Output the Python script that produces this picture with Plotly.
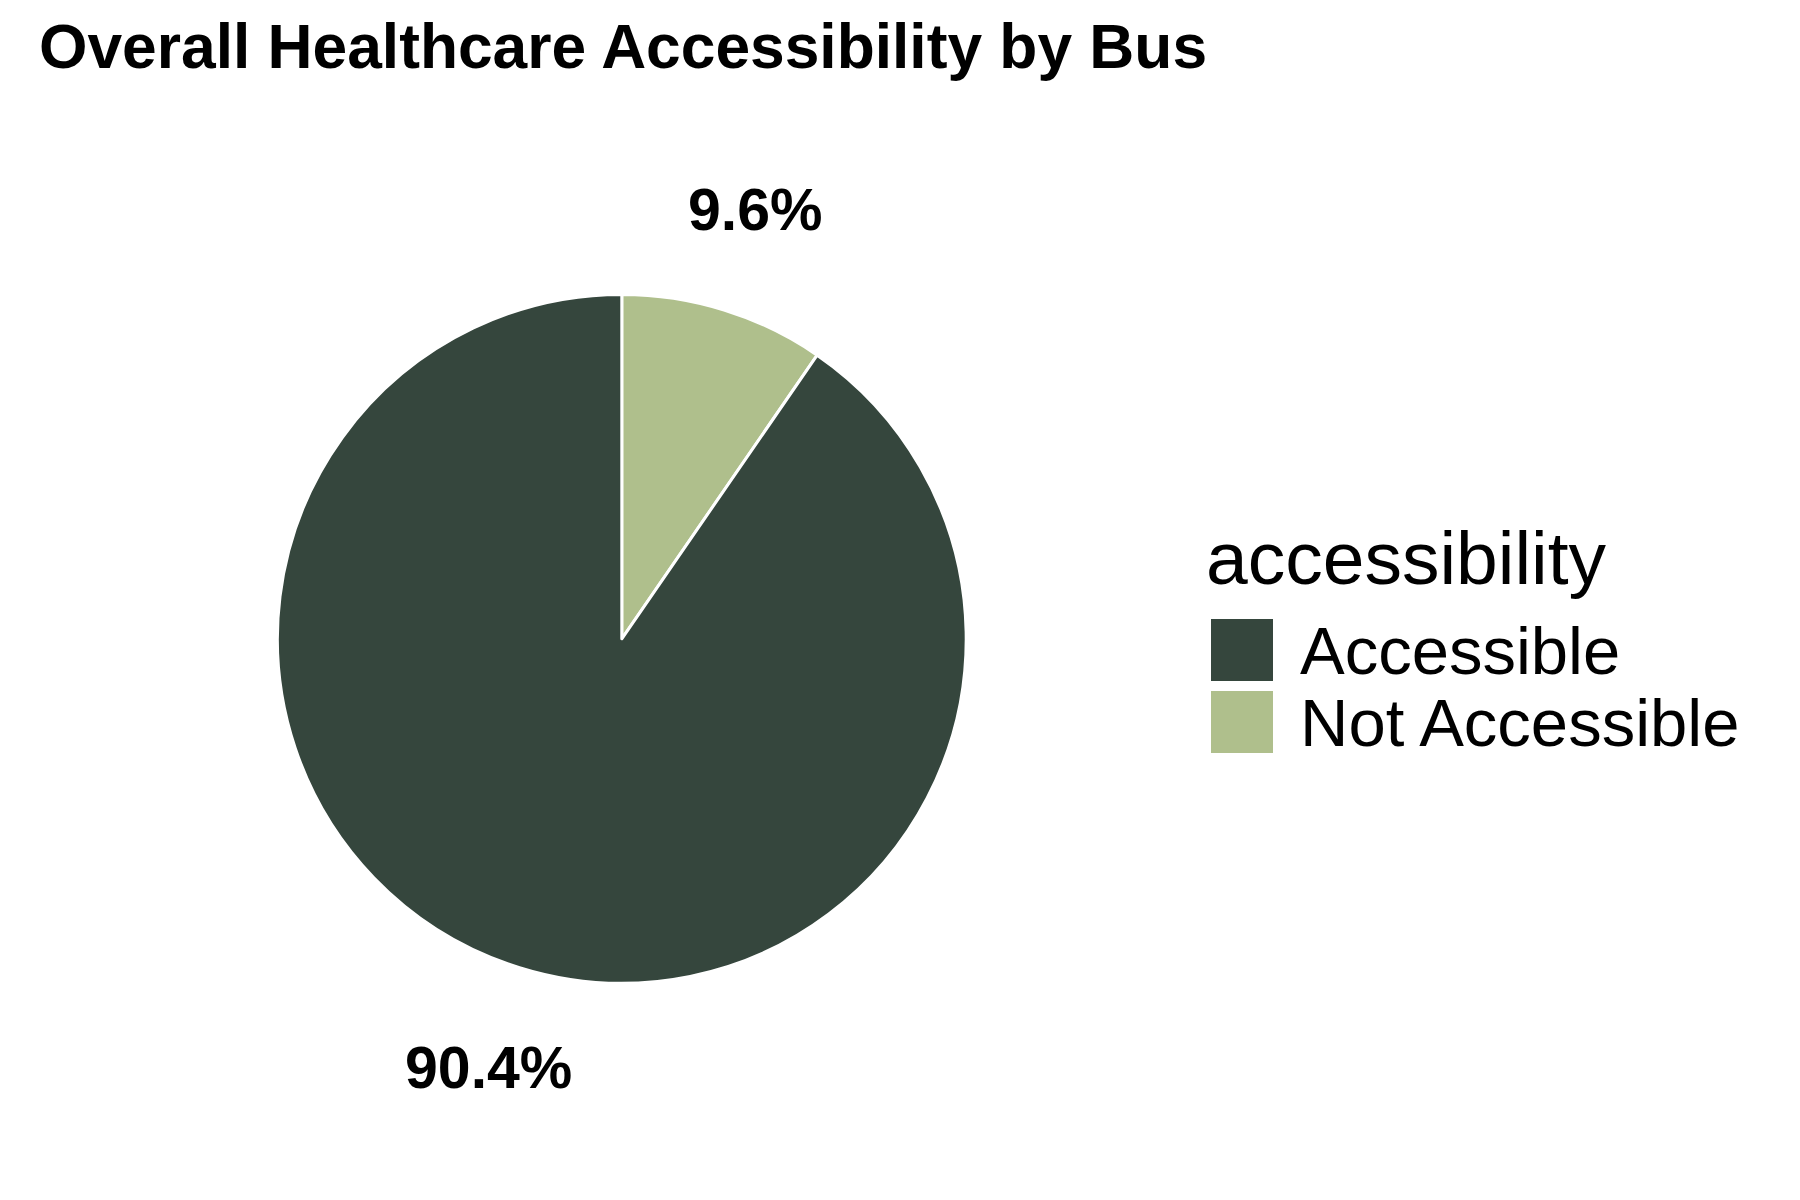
import math
import plotly.graph_objects as go

# data
categories = ['Accessible', 'Not Accessible']
shares     = [90.4, 9.6]
colors     = ['#35463D', '#AFBF8C']

# layout (pixels, page body adds an 8px margin so positions are shifted back)
W, H    = 1800, 1200
OFF     = 8
PIE_CX  = 621.8 - OFF
PIE_CY  = 638.8 - OFF   # from top
PIE_R   = 344.4
LABEL_K = 1.305         # label radius / pie radius
font_family = 'Arial, "Liberation Sans", sans-serif'
text_color  = '#000000'

fig = go.Figure()
# slices are fed in reverse so that, going clockwise from 12 o'clock,
# the small slice sits just right of the top (legend keeps the original order)
fig.add_trace(go.Pie(
    labels    = categories[::-1],
    values    = shares[::-1],
    sort      = False,
    direction = 'clockwise',
    rotation  = 0,
    textinfo  = 'none',
    hoverinfo = 'label+percent',
    marker    = {'colors': colors[::-1], 'line': {'color': 'white', 'width': 3}},
    domain    = {
        'x': [(PIE_CX - PIE_R) / W, (PIE_CX + PIE_R) / W],
        'y': [1 - (PIE_CY + PIE_R) / H, 1 - (PIE_CY - PIE_R) / H],
    },
    showlegend = False,
))

# percentage labels outside the pie, at slice midpoints (anticlockwise from 12 o'clock in category order)
total = sum(shares)
start = 0.0
for v in shares:
    mid = math.radians(start + v / total * 360 / 2)
    start += v / total * 360
    px = PIE_CX - PIE_R * LABEL_K * math.sin(mid)
    py = PIE_CY - PIE_R * LABEL_K * math.cos(mid)
    fig.add_annotation(
        text = f'<b>{v / total * 100:.1f}%</b>',
        x = px / W, y = 1 - py / H, xref = 'paper', yref = 'paper',
        xanchor = 'center', yanchor = 'middle', showarrow = False,
        font = {'size': 59, 'color': text_color, 'family': font_family},
    )

# legend (drawn by hand so the keys can be large squares)
LEG_X    = 1211 - OFF
LEG_Y0   = 619 - OFF
KEY      = 62
PITCH    = 72
fig.add_annotation(
    text = 'accessibility',
    x = (1204 - OFF) / W, y = 1 - (558 - OFF) / H, xref = 'paper', yref = 'paper',
    xanchor = 'left', yanchor = 'middle', showarrow = False,
    font = {'size': 75, 'color': text_color, 'family': font_family},
)
for i, (cat, col) in enumerate(zip(categories, colors)):
    top = LEG_Y0 + i * PITCH
    fig.add_shape(
        type = 'rect', xref = 'paper', yref = 'paper',
        x0 = LEG_X / W, x1 = (LEG_X + KEY) / W,
        y0 = 1 - (top + KEY) / H, y1 = 1 - top / H,
        fillcolor = col, line = {'width': 0},
    )
    fig.add_annotation(
        text = cat,
        x = (1298 - OFF) / W, y = 1 - (top + KEY / 2) / H, xref = 'paper', yref = 'paper',
        xanchor = 'left', yanchor = 'middle', showarrow = False,
        font = {'size': 67, 'color': text_color, 'family': font_family},
    )

fig.update_layout(
    width  = W,
    height = H,
    margin = {'t': 0, 'b': 0, 'l': 0, 'r': 0},
    paper_bgcolor = 'white',
    plot_bgcolor  = 'white',
    font = {'family': font_family, 'color': text_color},
    title = {
        'text':    '<b>Overall Healthcare Accessibility by Bus</b>',
        'font':    {'size': 62.3, 'color': text_color, 'family': font_family},
        'xref':    'container',
        'yref':    'container',
        'x':       (39 - OFF) / W,
        'xanchor': 'left',
        'y':       1 - (46 - OFF) / H,
        'yanchor': 'middle',
    },
    showlegend = False,
)

fig.write_html('out.html')
